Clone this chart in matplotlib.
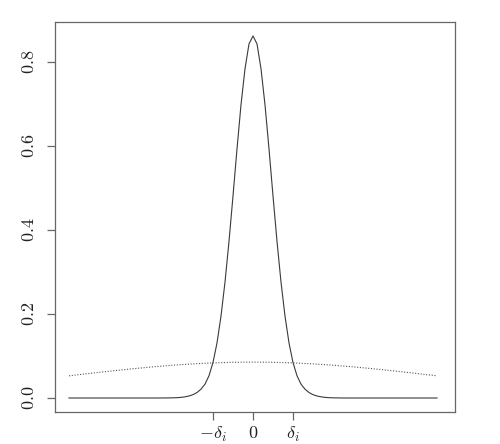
import matplotlib
matplotlib.use("Agg")
import matplotlib.pyplot as plt

plt.rcParams['mathtext.fontset'] = 'cm'
plt.rcParams['font.family'] = 'serif'
plt.rcParams['font.serif'] = ['DejaVu Serif']

# narrow density (solid)
x_narrow = [-4.6, -3.0, -2.4, -2.2, -2.0, -1.9, -1.8, -1.7, -1.6, -1.5, -1.4, -1.3,
            -1.2, -1.1, -1.0, -0.9, -0.8, -0.7, -0.6, -0.5, -0.4, -0.3, -0.2, -0.1,
            0.0,
            0.1, 0.2, 0.3, 0.4, 0.5, 0.6, 0.7, 0.8, 0.9, 1.0, 1.1, 1.2, 1.3, 1.4,
            1.5, 1.6, 1.7, 1.8, 1.9, 2.0, 2.2, 2.4, 3.0, 4.6]
y_narrow = [0.0, 0.0, 0.0, 0.0001, 0.0004, 0.0008, 0.0015, 0.0028, 0.0048, 0.008,
            0.013, 0.021, 0.033, 0.053, 0.0844, 0.131, 0.195, 0.276, 0.373, 0.481,
            0.593, 0.698, 0.784, 0.843,
            0.862,
            0.843, 0.784, 0.698, 0.593, 0.481, 0.373, 0.276, 0.195, 0.131, 0.0844,
            0.053, 0.033, 0.021, 0.013, 0.008, 0.0048, 0.0028, 0.0015, 0.0008,
            0.0004, 0.0001, 0.0, 0.0, 0.0]

# wide density (dotted)
x_wide = [-4.6, -4.0, -3.5, -3.0, -2.5, -2.0, -1.5, -1.0, -0.5, 0.0,
          0.5, 1.0, 1.5, 2.0, 2.5, 3.0, 3.5, 4.0, 4.6]
y_wide = [0.0528, 0.0594, 0.0647, 0.0697, 0.0742, 0.0781, 0.0812, 0.0836, 0.0850, 0.0855,
          0.0850, 0.0836, 0.0812, 0.0781, 0.0742, 0.0697, 0.0647, 0.0594, 0.0528]

x_ticks = [-1.0, 0.0, 1.0]
x_tick_labels = [r'$-\delta_i$', r'$0$', r'$\delta_i$']
y_ticks = [0.0, 0.2, 0.4, 0.6, 0.8]
y_tick_labels = [r'$0.0$', r'$0.2$', r'$0.4$', r'$0.6$', r'$0.8$']

fig = plt.figure(figsize=(5.0, 4.44), dpi=100)
ax = fig.add_axes([0.11, 0.0721, 0.80, 0.8784])

ax.plot(x_narrow, y_narrow, color='#3a3a3a', lw=0.8)
ax.plot(x_wide, y_wide, color='#555555', lw=0.8, linestyle=(0, (1, 1.5)))

ax.set_xlim(-4.95, 5.05)
ax.set_ylim(-0.0333, 0.8952)

ax.set_xticks(x_ticks)
ax.set_xticklabels(x_tick_labels, fontsize=13)
ax.set_yticks(y_ticks)
ax.set_yticklabels(y_tick_labels, fontsize=13, rotation=90, va='center')

for s in ax.spines.values():
    s.set_color('#666666')
    s.set_linewidth(0.9)
ax.tick_params(axis='both', colors='#666666', length=6, width=0.9, labelcolor='#222222')
ax.tick_params(axis='y', pad=6)
ax.tick_params(axis='x', pad=3)

fig.savefig('out.png', dpi=100)
